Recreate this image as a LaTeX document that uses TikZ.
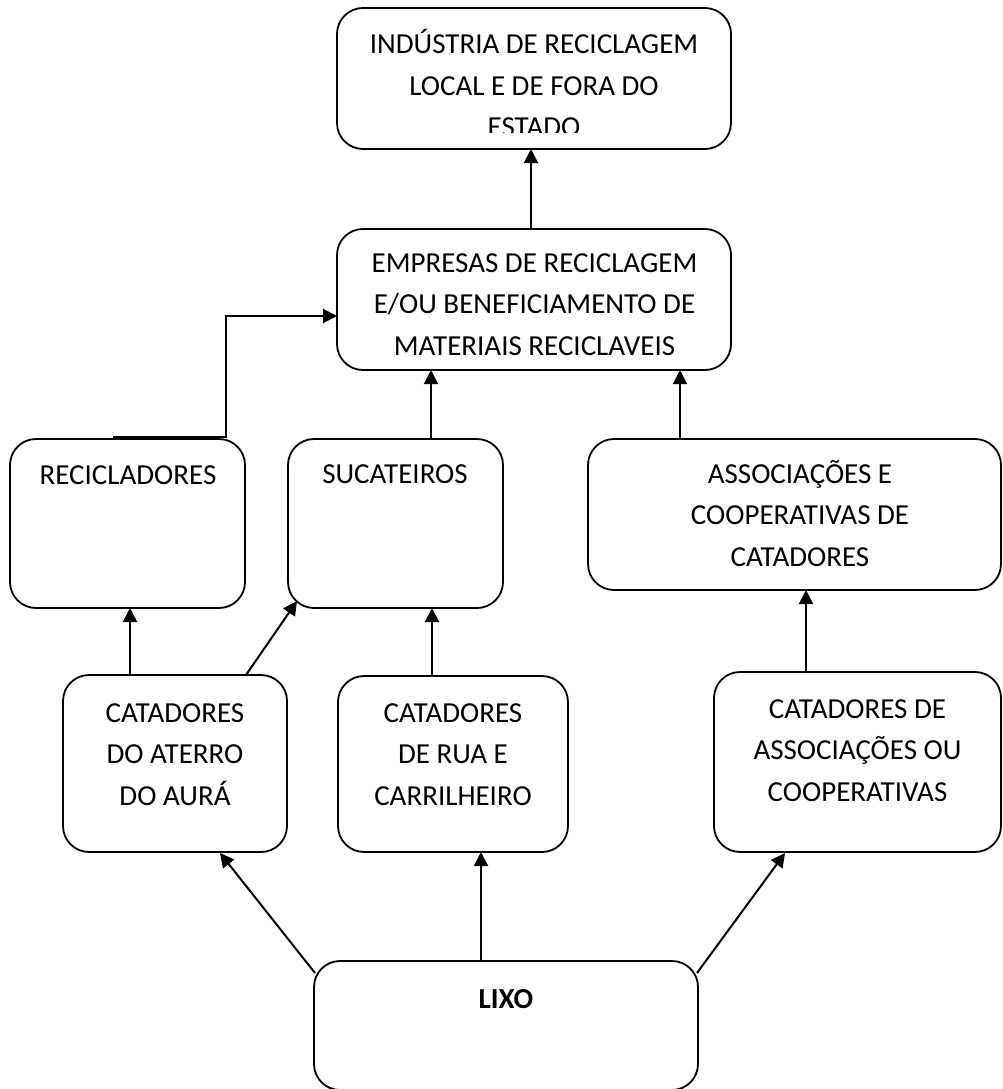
\documentclass[tikz,border=0pt]{standalone}
\usepackage{fontspec}
\setmainfont{Carlito}
\usetikzlibrary{arrows.meta,calc}
\newcommand\mlines[1]{\begin{tabular}[t]{@{}c@{}}#1\end{tabular}}
\begin{document}
\begin{tikzpicture}[x=1pt,y=-1pt,
  box/.style={draw, line width=1.8pt, rounded corners=26pt, inner sep=0pt, outer sep=0pt},
  lbl/.style={anchor=base, inner sep=0pt, font=\fontsize{29}{41.5}\selectfont},
  conn/.style={line width=2pt, -{Triangle[length=14pt,width=14pt]}}]
\useasboundingbox (0,0) rectangle (1003,1089);

% boxes
\node[box, minimum width=394pt, minimum height=141pt] (ind) at (534,78.5) {};
\node[box, minimum width=394pt, minimum height=141pt] (emp) at (534,299.5) {};
\node[box, minimum width=235pt, minimum height=169pt] (rec) at (127.5,523.5) {};
\node[box, minimum width=215pt, minimum height=169pt] (suc) at (395.5,523.5) {};
\node[box, minimum width=413pt, minimum height=151pt] (ass) at (794.5,514.5) {};
\node[box, minimum width=224pt, minimum height=177pt] (ater) at (175,763.5) {};
\node[box, minimum width=230pt, minimum height=176pt] (rua) at (453,764) {};
\node[box, minimum width=287pt, minimum height=180pt] (cass) at (857.5,762) {};
\node[box, minimum width=384pt, minimum height=129pt] (lixo) at (506,1025.5) {};

% texts
\begin{scope}
\clip (337,0) rectangle (731,133);
\node[lbl] (tind) at (534,54) {\mlines{INDÚSTRIA DE RECICLAGEM\\LOCAL E DE FORA DO\\ESTADO}};
\end{scope}
\node[lbl] (temp) at (534.5,272) {\mlines{EMPRESAS DE RECICLAGEM\\E/OU BENEFICIAMENTO DE\\MATERIAIS RECICLAVEIS}};
\node[lbl] (trec) at (128,484) {RECICLADORES};
\node[lbl] (tsuc) at (395,483) {SUCATEIROS};
\node[lbl] (tass) at (800,483) {\mlines{ASSOCIAÇÕES E\\COOPERATIVAS DE\\CATADORES}};
\node[lbl] (tater) at (175,722) {\mlines{CATADORES\\DO ATERRO\\DO AURÁ}};
\node[lbl] (trua) at (453,722) {\mlines{CATADORES\\DE RUA E\\CARRILHEIRO}};
\node[lbl] (tcass) at (857.5,718) {\mlines{CATADORES DE\\ASSOCIAÇÕES OU\\COOPERATIVAS}};
\node[lbl, font=\fontsize{29}{41.5}\selectfont\bfseries] (tlixo) at (506,1008) {LIXO};

% connectors
\coordinate (e0) at ($(emp.north)+(-3,0)$);
\draw[conn] (e0) -- (e0 |- ind.south);

\coordinate (s1) at ($(suc.north)+(35.5,0)$);
\draw[conn] (s1) -- (s1 |- emp.south);

\coordinate (a1) at ($(ass.north)+(-114.5,0)$);
\draw[conn] (a1) -- (a1 |- emp.south);

\coordinate (r1) at ($(rec.north)+(-14.5,-2)$);
\coordinate (r2) at ($(rec.north)+(98.5,-2)$);
\coordinate (e1) at ($(emp.west)+(0,16.5)$);
\draw[conn] (r1) -- (r2) -- (r2 |- e1) -- (e1);

\coordinate (c1) at ($(ater.north)+(-45,0)$);
\draw[conn] (c1) -- (c1 |- rec.south);

\draw[conn] ($(ater.north)+(71,0)$) -- ($(suc.south west)+(9,-7)$);

\coordinate (u1) at ($(rua.north)+(-21,0)$);
\draw[conn] (u1) -- (u1 |- suc.south);

\coordinate (k1) at ($(cass.north)+(-51.5,0)$);
\draw[conn] (k1) -- (k1 |- ass.south);

\coordinate (l1) at ($(lixo.north)+(-25,0)$);
\draw[conn] (l1) -- (l1 |- rua.south);

\draw[conn] ($(lixo.north west)+(1,12)$) -- ($(ater.south)+(45,1)$);
\draw[conn] ($(lixo.north east)+(-1,12)$) -- ($(cass.south)+(-72.5,1)$);
\end{tikzpicture}
\end{document}
